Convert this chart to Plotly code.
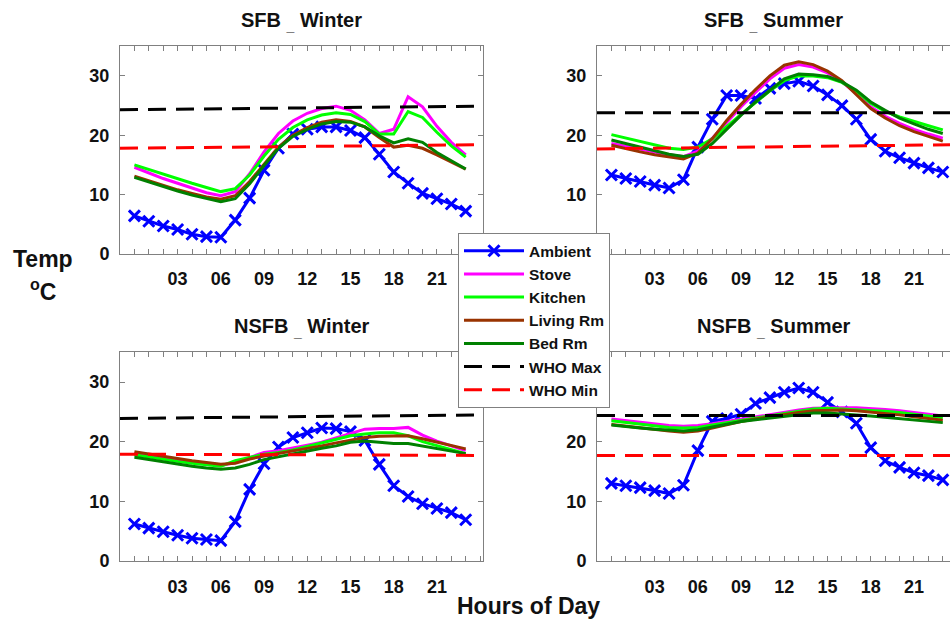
import plotly.graph_objects as go

# Hour of day for each logged reading
hours = list(range(24))
tick_hours = [3, 6, 9, 12, 15, 18, 21]
tick_labels = ["03", "06", "09", "12", "15", "18", "21"]

# Endpoints of the WHO guideline lines (hours)
who_hours_left = [-1, 24.2]
who_hours_right = [-1, 23.5]

# ---- SFB, winter ----
sfb_w_ambient = [6.4, 5.5, 4.7, 4.1, 3.3, 2.9, 2.8, 5.7, 9.4, 14.1, 17.8, 20.2,
                 21.0, 21.4, 21.4, 20.8, 19.6, 16.8, 13.8, 11.9, 10.2, 9.3, 8.4, 7.2]
sfb_w_stove = [14.6, 13.6, 12.7, 11.9, 11.1, 10.3, 9.8, 10.5, 13.5, 17.2, 20.3, 22.4,
               23.7, 24.5, 24.9, 24.2, 22.6, 20.3, 21.0, 26.5, 24.8, 21.5, 18.8, 16.7]
sfb_w_kitchen = [15.0, 14.2, 13.4, 12.6, 11.9, 11.2, 10.5, 11.0, 13.3, 16.5, 19.3, 21.3,
                 22.6, 23.4, 23.8, 23.5, 22.3, 20.2, 20.2, 24.0, 23.0, 20.5, 18.2, 16.3]
sfb_w_living = [13.1, 12.3, 11.5, 10.8, 10.2, 9.6, 9.2, 9.8, 12.2, 15.2, 18.0, 20.0,
                21.3, 22.2, 22.6, 22.3, 21.4, 19.6, 18.0, 18.3, 17.8, 16.7, 15.5, 14.3]
sfb_w_bed = [12.9, 12.1, 11.3, 10.6, 9.9, 9.3, 8.8, 9.3, 11.8, 14.9, 17.8, 19.8,
             21.0, 21.9, 22.3, 22.2, 21.4, 19.9, 18.7, 19.4, 18.8, 17.1, 15.7, 14.3]
sfb_w_who_max = [24.3, 24.9]
sfb_w_who_min = [17.8, 18.4]

# ---- SFB, summer ----
sfb_s_ambient = [13.3, 12.7, 12.2, 11.6, 11.1, 12.5, 18.0, 22.7, 26.7, 26.7, 26.2, 27.9,
                 28.7, 29.1, 28.3, 26.8, 25.0, 22.7, 19.3, 17.3, 16.2, 15.3, 14.5, 13.8]
sfb_s_stove = [18.6, 18.1, 17.6, 17.1, 16.7, 16.4, 17.3, 19.5, 22.2, 24.8, 27.2, 29.5,
               31.3, 31.9, 31.5, 30.5, 29.0, 27.0, 24.8, 23.2, 22.0, 21.0, 20.2, 19.5]
sfb_s_kitchen = [20.1, 19.5, 18.9, 18.3, 17.8, 17.6, 18.0, 19.4, 21.5, 23.5, 25.5, 27.5,
                 29.2, 30.0, 30.0, 29.7, 28.9, 27.4, 25.4, 24.0, 23.1, 22.3, 21.6, 20.9]
sfb_s_living = [18.3, 17.7, 17.2, 16.7, 16.3, 16.0, 17.0, 19.4, 22.5, 25.2, 27.7, 30.0,
                31.8, 32.4, 31.9, 30.8, 29.2, 26.9, 24.5, 22.9, 21.6, 20.6, 19.8, 19.0]
sfb_s_bed = [19.2, 18.6, 18.0, 17.4, 16.8, 16.4, 16.8, 18.6, 21.0, 23.4, 25.6, 27.6,
             29.5, 30.3, 30.2, 29.9, 29.0, 27.6, 25.6, 24.2, 22.9, 21.9, 21.0, 20.3]
sfb_s_who_max = [23.8, 23.8]
sfb_s_who_min = [17.7, 18.4]

# ---- NSFB, winter ----
nsfb_w_ambient = [6.2, 5.5, 4.9, 4.3, 3.8, 3.6, 3.4, 6.6, 12.0, 16.3, 19.1, 20.7,
                  21.5, 22.3, 22.2, 21.7, 20.2, 16.2, 12.6, 10.8, 9.6, 8.8, 8.1, 6.9]
nsfb_w_stove = [18.0, 17.6, 17.2, 16.9, 16.6, 16.3, 16.0, 16.5, 17.3, 18.2, 18.5, 18.9,
                19.4, 19.9, 20.6, 21.4, 22.1, 22.2, 22.2, 22.4, 21.1, 20.1, 19.3, 18.5]
nsfb_w_kitchen = [17.8, 17.4, 17.0, 16.7, 16.4, 16.1, 15.9, 16.8, 17.4, 17.9, 18.2, 18.6,
                  19.2, 19.8, 20.3, 21.0, 21.3, 21.5, 21.5, 21.0, 20.0, 19.3, 18.7, 18.0]
nsfb_w_living = [18.3, 17.9, 17.5, 17.1, 16.8, 16.5, 16.2, 16.4, 17.1, 17.6, 18.0, 18.4,
                 18.8, 19.3, 19.8, 20.3, 20.7, 20.9, 20.9, 21.0, 20.5, 19.9, 19.3, 18.8]
nsfb_w_bed = [17.4, 17.0, 16.6, 16.2, 15.9, 15.6, 15.4, 15.6, 16.2, 17.0, 17.5, 17.9,
              18.4, 18.9, 19.3, 19.9, 20.1, 19.9, 19.7, 19.7, 19.3, 18.9, 18.5, 18.0]
nsfb_w_who_max = [23.9, 24.5]
nsfb_w_who_min = [17.9, 17.7]

# ---- NSFB, summer ----
nsfb_s_ambient = [13.0, 12.6, 12.3, 11.8, 11.3, 12.7, 18.5, 23.4, 23.9, 24.6, 26.4, 27.4,
                  28.3, 29.0, 28.3, 26.6, 25.0, 23.1, 19.0, 16.8, 15.7, 14.8, 14.3, 13.6]
nsfb_s_stove = [23.8, 23.5, 23.2, 22.9, 22.7, 22.6, 22.7, 23.0, 23.4, 23.8, 24.2, 24.5,
                24.9, 25.3, 25.6, 25.7, 25.7, 25.7, 25.6, 25.4, 25.2, 24.9, 24.6, 24.3]
nsfb_s_kitchen = [23.5, 23.2, 22.9, 22.6, 22.4, 22.3, 22.4, 22.8, 23.2, 23.6, 24.0, 24.4,
                  24.8, 25.2, 25.5, 25.6, 25.5, 25.4, 25.3, 25.1, 24.9, 24.6, 24.3, 24.0]
nsfb_s_living = [22.9, 22.6, 22.3, 22.0, 21.8, 21.6, 21.8, 22.3, 22.9, 23.4, 23.8, 24.2,
                 24.5, 24.9, 25.2, 25.3, 25.3, 25.2, 25.0, 24.8, 24.5, 24.2, 23.9, 23.6]
nsfb_s_bed = [22.8, 22.5, 22.3, 22.1, 21.9, 21.8, 22.0, 22.5, 23.0, 23.4, 23.7, 24.0,
              24.3, 24.6, 24.8, 24.8, 24.7, 24.5, 24.3, 24.1, 23.9, 23.6, 23.4, 23.2]
nsfb_s_who_max = [24.4, 24.4]
nsfb_s_who_min = [17.7, 17.7]

panel_titles = ["SFB <sub>_</sub> Winter", "SFB <sub>_</sub> Summer",
                "NSFB <sub>_</sub> Winter", "NSFB <sub>_</sub> Summer"]

panels = [
    (sfb_w_ambient, sfb_w_stove, sfb_w_kitchen, sfb_w_living, sfb_w_bed, sfb_w_who_max, sfb_w_who_min),
    (sfb_s_ambient, sfb_s_stove, sfb_s_kitchen, sfb_s_living, sfb_s_bed, sfb_s_who_max, sfb_s_who_min),
    (nsfb_w_ambient, nsfb_w_stove, nsfb_w_kitchen, nsfb_w_living, nsfb_w_bed, nsfb_w_who_max, nsfb_w_who_min),
    (nsfb_s_ambient, nsfb_s_stove, nsfb_s_kitchen, nsfb_s_living, nsfb_s_bed, nsfb_s_who_max, nsfb_s_who_min),
]

FONT = "Liberation Sans, Arial, sans-serif"
W, H = 950, 627

# Panel boxes in pixels: (left, right, top, bottom)
boxes = [(120, 483, 47, 258), (597, 950, 47, 258),
         (120, 483, 358, 570), (597, 950, 358, 570)]

series_style = [
    ("Ambient", "#0000FF", "solid"),
    ("Stove", "#FF00FF", "solid"),
    ("Kitchen", "#00FF00", "solid"),
    ("Living Rm", "#993300", "solid"),
    ("Bed Rm", "#008000", "solid"),
    ("WHO Max", "#000000", "18px,10px"),
    ("WHO Min", "#FF0000", "18px,10px"),
]

fig = go.Figure()
layout = {}
annotations = []

for i, (data, title, box) in enumerate(zip(panels, panel_titles, boxes)):
    n = i + 1
    xa = "x" if n == 1 else f"x{n}"
    ya = "y" if n == 1 else f"y{n}"
    right_col = i % 2 == 1
    who_x = who_hours_right if right_col else who_hours_left
    for j, (name, color, dash) in enumerate(series_style):
        yvals = data[j]
        xvals = who_x if j >= 5 else hours
        kw = dict(x=xvals, y=yvals, name=name, xaxis=xa, yaxis=ya,
                  legendgroup=name, showlegend=(i == 0),
                  line=dict(color=color, width=3, dash=dash))
        if j == 0:
            kw["mode"] = "lines+markers"
            kw["marker"] = dict(symbol="x-thin", size=11,
                                line=dict(color=color, width=3))
        else:
            kw["mode"] = "lines"
        fig.add_trace(go.Scatter(**kw))

    l, r, t, b = box
    xrange = [-1, 23.5] if right_col else [-1, 24.2]
    layout["xaxis" if n == 1 else f"xaxis{n}"] = dict(
        domain=[l / W, r / W], anchor=ya, range=xrange,
        tickvals=tick_hours, ticktext=tick_labels,
        ticks="inside", ticklen=5, tickcolor="#808080",
        minor=dict(dtick=1, tick0=0, ticks="inside", ticklen=5,
                   tickcolor="#808080", showgrid=False),
        showline=True, linecolor="#808080", linewidth=1, mirror="ticks",
        showgrid=False, zeroline=False, ticklabelstandoff=9,
        tickfont=dict(family=FONT, size=18, color="#111", weight="bold"),
    )
    layout["yaxis" if n == 1 else f"yaxis{n}"] = dict(
        domain=[1 - b / H, 1 - t / H], anchor=xa, range=[0, 35],
        tickvals=[0, 10, 20, 30],
        ticks="inside", ticklen=5, tickcolor="#808080",
        showline=True, linecolor="#808080", linewidth=1,
        mirror=False if right_col else "ticks",
        showgrid=False, zeroline=False, ticklabelstandoff=6,
        tickfont=dict(family=FONT, size=18, color="#111", weight="bold"),
    )
    annotations.append(dict(
        text=title, x=(l + r) / 2 / W, y=1 - (t - 25) / H,
        xref="paper", yref="paper", xanchor="center", yanchor="middle",
        showarrow=False,
        font=dict(family=FONT, size=20, color="#111", weight="bold")))

annotations.append(dict(text="Temp", x=43 / W, y=1 - 263 / H, xref="paper", yref="paper",
                        showarrow=False, xanchor="center", yanchor="middle",
                        font=dict(family=FONT, size=23, color="#111", weight="bold")))
annotations.append(dict(text="<sup>o</sup>C", x=43 / W, y=1 - 295 / H, xref="paper", yref="paper",
                        showarrow=False, xanchor="center", yanchor="middle",
                        font=dict(family=FONT, size=23, color="#111", weight="bold")))
annotations.append(dict(text="Hours of Day", x=528 / W, y=1 - 616 / H, xref="paper", yref="paper",
                        showarrow=False, xanchor="center", yanchor="middle",
                        font=dict(family=FONT, size=23, color="#111", weight="bold")))

fig.update_layout(
    width=W, height=H,
    margin=dict(l=0, r=0, t=0, b=0),
    paper_bgcolor="white", plot_bgcolor="white",
    annotations=annotations,
    legend=dict(x=458 / W, y=1 - 237 / H, xanchor="left", yanchor="top",
                bgcolor="white", bordercolor="#808080", borderwidth=1,
                font=dict(family=FONT, size=15.5, color="#111", weight="bold"),
                itemwidth=60, tracegroupgap=0),
    **layout,
)

fig.write_html("out.html")
